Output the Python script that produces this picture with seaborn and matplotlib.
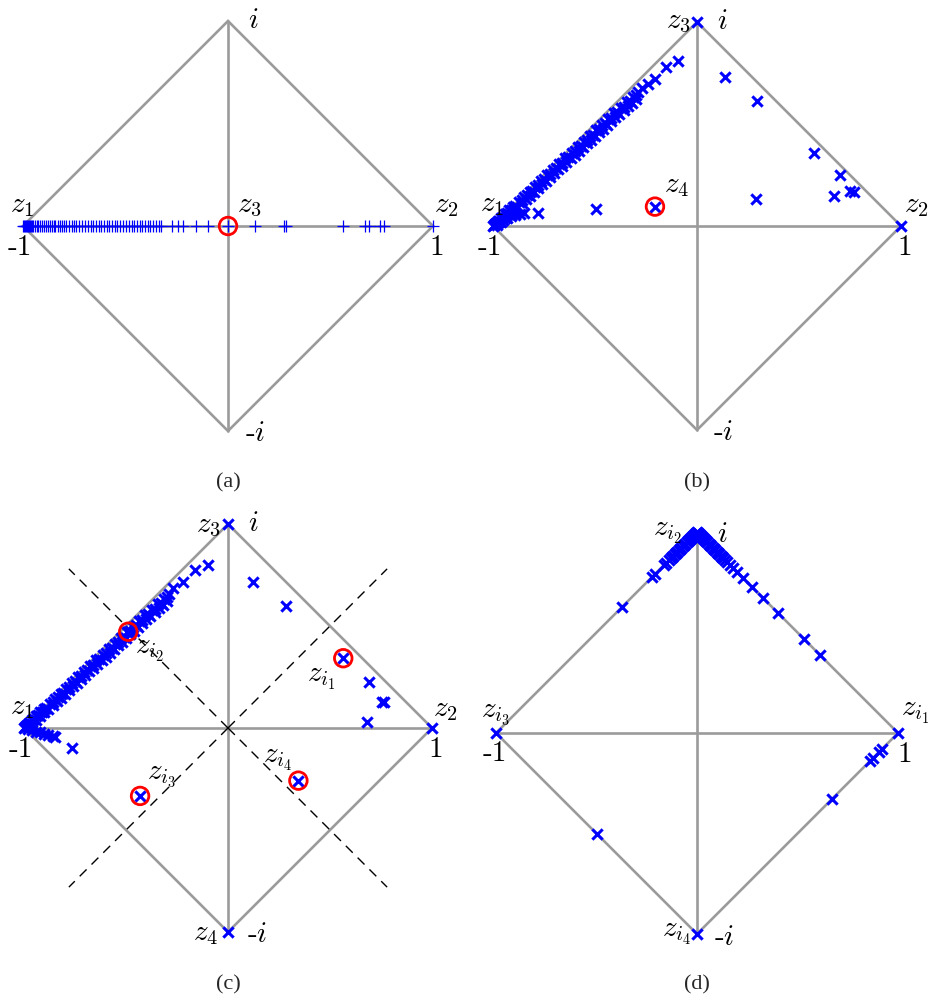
import matplotlib
matplotlib.use("Agg")
import matplotlib.pyplot as plt
from matplotlib.markers import MarkerStyle
import seaborn as sns
import pandas as pd

# ---------------------------------------------------------------- data
# (a) iterates on the real axis
a_x = [-1.00, -0.995, -0.99, -0.985, -0.98, -0.975, -0.97, -0.965, -0.96, -0.955,
       -0.95, -0.94, -0.93, -0.925, -0.915, -0.905, -0.90, -0.89, -0.88, -0.87,
       -0.86, -0.85, -0.845, -0.83, -0.82, -0.81, -0.80, -0.79, -0.775, -0.76,
       -0.75, -0.74, -0.725, -0.71, -0.70, -0.685, -0.67, -0.66, -0.645, -0.63,
       -0.62, -0.605, -0.59, -0.58, -0.565, -0.55, -0.54, -0.525, -0.51, -0.50,
       -0.485, -0.47, -0.46, -0.445, -0.43, -0.42, -0.405, -0.39, -0.38, -0.365,
       -0.35, -0.335, -0.325, -0.275, -0.245, -0.22, -0.157, -0.098, 0.0, 0.132,
       0.275, 0.284, 0.559, 0.667, 0.686, 0.740, 0.760, 1.0]
a_y = [0.0] * len(a_x)
a_mark_x = [0.0]
a_mark_y = [0.0]

# dense cluster along the upper-left edge, shared by (b) and (c)
band_x = [-1.00, -0.995, -0.99, -0.985, -0.98, -0.975, -0.97, -0.96, -0.95, -0.94,
          -0.93, -0.92, -0.91, -0.90, -0.89, -0.875, -0.86, -0.85, -0.835, -0.82,
          -0.81, -0.795, -0.78, -0.765, -0.75, -0.735, -0.72, -0.705, -0.69, -0.675,
          -0.66, -0.645, -0.63, -0.615, -0.60, -0.585, -0.57, -0.555, -0.54, -0.525,
          -0.51, -0.495, -0.48, -0.465, -0.45, -0.435, -0.42, -0.405, -0.39, -0.375,
          -0.36, -0.345, -0.33, -0.315, -0.30, -0.29]
band_y = [0.000, 0.006, 0.008, 0.015, 0.017, 0.025, 0.026, 0.038, 0.044, 0.058,
          0.062, 0.076, 0.080, 0.095, 0.100, 0.118, 0.127, 0.141, 0.150, 0.168,
          0.173, 0.192, 0.200, 0.220, 0.228, 0.248, 0.256, 0.276, 0.283, 0.303,
          0.311, 0.331, 0.338, 0.359, 0.366, 0.387, 0.393, 0.414, 0.420, 0.442,
          0.448, 0.469, 0.475, 0.497, 0.503, 0.524, 0.530, 0.552, 0.558, 0.579,
          0.585, 0.607, 0.613, 0.634, 0.640, 0.655]
# a second, slightly lower row that thickens the cluster
band2_x = [-0.98, -0.96, -0.94, -0.92, -0.90, -0.88, -0.86, -0.84, -0.82, -0.80,
           -0.78, -0.76, -0.74, -0.72, -0.70, -0.68, -0.66, -0.64, -0.62, -0.60,
           -0.58, -0.56, -0.54, -0.52, -0.50, -0.48, -0.46, -0.44, -0.42, -0.40,
           -0.38, -0.36, -0.34, -0.32, -0.30]
band2_y = [0.005, 0.022, 0.040, 0.058, 0.076, 0.094, 0.113, 0.131, 0.149, 0.167,
           0.186, 0.204, 0.222, 0.240, 0.259, 0.277, 0.295, 0.313, 0.332, 0.350,
           0.368, 0.386, 0.405, 0.423, 0.441, 0.459, 0.477, 0.496, 0.514, 0.532,
           0.550, 0.569, 0.587, 0.605, 0.623]

# (b)
b_x = [-0.99, -0.97, -0.95, -0.93, -0.91, -0.89, -0.87, -0.85, -0.778, -0.495,
       -0.271, -0.238, -0.206, -0.154, -0.092, 0.0, 0.137, 0.293, 0.574, 0.701,
       0.750, 0.770, 0.673, 0.289, 1.0, -0.206]
b_y = [0.010, 0.020, 0.030, 0.040, 0.048, 0.055, 0.060, 0.062, 0.062, 0.082,
       0.675, 0.695, 0.719, 0.781, 0.809, 1.0, 0.729, 0.613, 0.359, 0.248,
       0.173, 0.168, 0.149, 0.131, 0.0, 0.095]
b_mark_x = [-0.206]
b_mark_y = [0.095]

# (c)
c_x = [-0.98, -0.96, -0.94, -0.92, -0.90, -0.88, -0.86, -0.85, -0.766,
       -0.268, -0.222, -0.162, -0.100, 0.0, 0.124, 0.283, 0.693, 0.753, 0.765,
       0.683, 1.0, 0.0, 0.565, -0.489, -0.431, 0.345]
c_y = [-0.005, -0.010, -0.018, -0.022, -0.028, -0.033, -0.040, -0.045, -0.100,
       0.685, 0.717, 0.775, 0.799, 1.0, 0.717, 0.598, 0.224, 0.129, 0.129,
       0.028, 0.0, -1.0, 0.342, 0.472, -0.333, -0.258]
c_mark_x = [0.565, -0.489, -0.431, 0.345]
c_mark_y = [0.342, 0.472, -0.333, -0.258]

# (d) iterates on the edges of the square
d_x = [0.0, -0.005, -0.01, -0.015, -0.02, -0.025, -0.03, -0.035, -0.04, -0.045,
       -0.05, -0.06, -0.065, -0.07, -0.08, -0.085, -0.09, -0.10, -0.105, -0.11,
       -0.12, -0.125, -0.13, -0.14,
       -0.155, -0.165, -0.21, -0.225, -0.375, -0.5, -1.0, 0.0,
       0.005, 0.01, 0.015, 0.02, 0.025, 0.03, 0.035, 0.04, 0.045, 0.05, 0.06,
       0.065, 0.07, 0.08, 0.085, 0.09, 0.10, 0.105, 0.11, 0.12, 0.125, 0.13,
       0.14, 0.15,
       0.165, 0.18, 0.20, 0.23, 0.275, 0.33, 0.405, 0.53, 0.61, 1.0, 0.92,
       0.905, 0.878, 0.862, 0.673]
d_y = [1.0, 0.995, 0.99, 0.985, 0.98, 0.975, 0.97, 0.965, 0.96, 0.955,
       0.95, 0.94, 0.935, 0.93, 0.92, 0.915, 0.91, 0.90, 0.895, 0.89,
       0.88, 0.875, 0.87, 0.86,
       0.845, 0.835, 0.79, 0.775, 0.625, -0.5, 0.0, -1.0,
       0.995, 0.99, 0.985, 0.98, 0.975, 0.97, 0.965, 0.96, 0.955, 0.95, 0.94,
       0.935, 0.93, 0.92, 0.915, 0.91, 0.90, 0.895, 0.89, 0.88, 0.875, 0.87,
       0.86, 0.85,
       0.835, 0.82, 0.80, 0.77, 0.725, 0.67, 0.595, 0.47, 0.39, 0.0, -0.08,
       -0.095, -0.122, -0.138, -0.327]

# square with corners 1, i, -1, -i
square_x = [1, 0, -1, 0, 1]
square_y = [0, 1, 0, -1, 0]
guide_end = 0.78

# ---------------------------------------------------------------- style
sns.set_theme(style="white")
plt.rcParams["mathtext.fontset"] = "cm"
plt.rcParams["font.family"] = ["cmr10", "DejaVu Serif"]
plt.rcParams["axes.unicode_minus"] = False

W, H = 932, 1005
fig = plt.figure(figsize=(W / 100, H / 100), dpi=100)

GRAY = "#9b9b9b"
LIM = 1.12
FS = 21


def make_axes(cx, cy, s):
    ax = fig.add_axes([(cx - LIM * s) / W, 1 - (cy + LIM * s) / H,
                       2 * LIM * s / W, 2 * LIM * s / H])
    ax.set_xlim(-LIM, LIM)
    ax.set_ylim(-LIM, LIM)
    ax.set_axis_off()
    ax.plot(square_x, square_y, color=GRAY, lw=1.9, zorder=1,
            solid_joinstyle="miter")
    ax.plot([-1, 1], [0, 0], color=GRAY, lw=1.9, zorder=1)
    ax.plot([0, 0], [-1, 1], color=GRAY, lw=1.9, zorder=1)
    return ax


def crosses(ax, xs, ys, marker="x", s=55, lw=2.2):
    sns.scatterplot(data=pd.DataFrame({"re": xs, "im": ys}), x="re", y="im",
                    ax=ax, marker=marker, color="#0000ff", s=s, linewidth=lw,
                    zorder=4, legend=False)


def rings(ax, xs, ys):
    sns.scatterplot(data=pd.DataFrame({"re": xs, "im": ys}), x="re", y="im",
                    ax=ax, marker=MarkerStyle("o", fillstyle="none"),
                    color="#ff0000", s=160, linewidth=2.0, zorder=5,
                    legend=False)


def label(ax, x, y, txt, fs=FS):
    ax.text(x, y, txt, fontsize=fs, ha="center", va="center", color="black",
            zorder=6, clip_on=False)


def corner_labels(ax, neg_i_x=0.13):
    label(ax, -1.015, -0.107, "-1")
    label(ax, 1.02, -0.107, "1")
    label(ax, 0.125, 1.0, r"$i$")
    label(ax, neg_i_x, -1.015, r"-$i$")


# ---------------------------------------------------------------- (a)
ax = make_axes(228, 226, 205)
crosses(ax, a_x, a_y, marker="+", s=80, lw=0.9)
rings(ax, a_mark_x, a_mark_y)
corner_labels(ax)
label(ax, -1.005, 0.10, r"$z_1$")
label(ax, 0.105, 0.10, r"$z_3$")
label(ax, 1.065, 0.10, r"$z_2$")

# ---------------------------------------------------------------- (b)
ax = make_axes(697, 226, 204)
crosses(ax, band_x, band_y)
crosses(ax, band2_x, band2_y)
crosses(ax, b_x, b_y)
rings(ax, b_mark_x, b_mark_y)
corner_labels(ax)
label(ax, -1.005, 0.105, r"$z_1$")
label(ax, -0.092, 1.0, r"$z_3$")
label(ax, -0.10, 0.196, r"$z_4$")
label(ax, 1.075, 0.10, r"$z_2$")

# ---------------------------------------------------------------- (c)
ax = make_axes(228, 728, 204)
for sx, sy in [(1, 1), (-1, 1), (-1, -1), (1, -1)]:
    ax.plot([0, sx * guide_end], [0, sy * guide_end], color="black", lw=1.0,
            dashes=(7, 5), zorder=2)
crosses(ax, band_x, band_y)
crosses(ax, band2_x, band2_y)
crosses(ax, c_x, c_y)
rings(ax, c_mark_x, c_mark_y)
corner_labels(ax, neg_i_x=0.142)
label(ax, -1.01, 0.098, r"$z_1$")
label(ax, -0.098, 0.99, r"$z_3$")
label(ax, 1.065, 0.09, r"$z_2$")
label(ax, -0.11, -1.01, r"$z_4$")
label(ax, 0.455, 0.24, r"$z_{i_1}$")
label(ax, -0.387, 0.377, r"$z_{i_2}$")
label(ax, -0.328, -0.235, r"$z_{i_3}$")
label(ax, 0.245, -0.157, r"$z_{i_4}$")

# ---------------------------------------------------------------- (d)
ax = make_axes(697, 733, 201)
crosses(ax, d_x, d_y)
label(ax, -1.005, -0.104, "-1")
label(ax, 1.035, -0.109, "1")
label(ax, 0.124, 0.985, r"$i$")
label(ax, 0.134, -1.02, r"-$i$")
label(ax, -0.149, 0.995, r"$z_{i_2}$")
label(ax, 1.085, 0.10, r"$z_{i_1}$")
label(ax, -1.0, 0.095, r"$z_{i_3}$")
label(ax, -0.10, -1.0, r"$z_{i_4}$")

# ---------------------------------------------------------------- captions
for txt, px, py in [("(a)", 228, 483), ("(b)", 697, 483),
                    ("(c)", 228, 985), ("(d)", 697, 985)]:
    fig.text(px / W, 1 - py / H, txt, fontsize=16, ha="center", va="center",
             family=["Liberation Serif", "DejaVu Serif"])

fig.savefig("out.png", dpi=100, facecolor="white")
